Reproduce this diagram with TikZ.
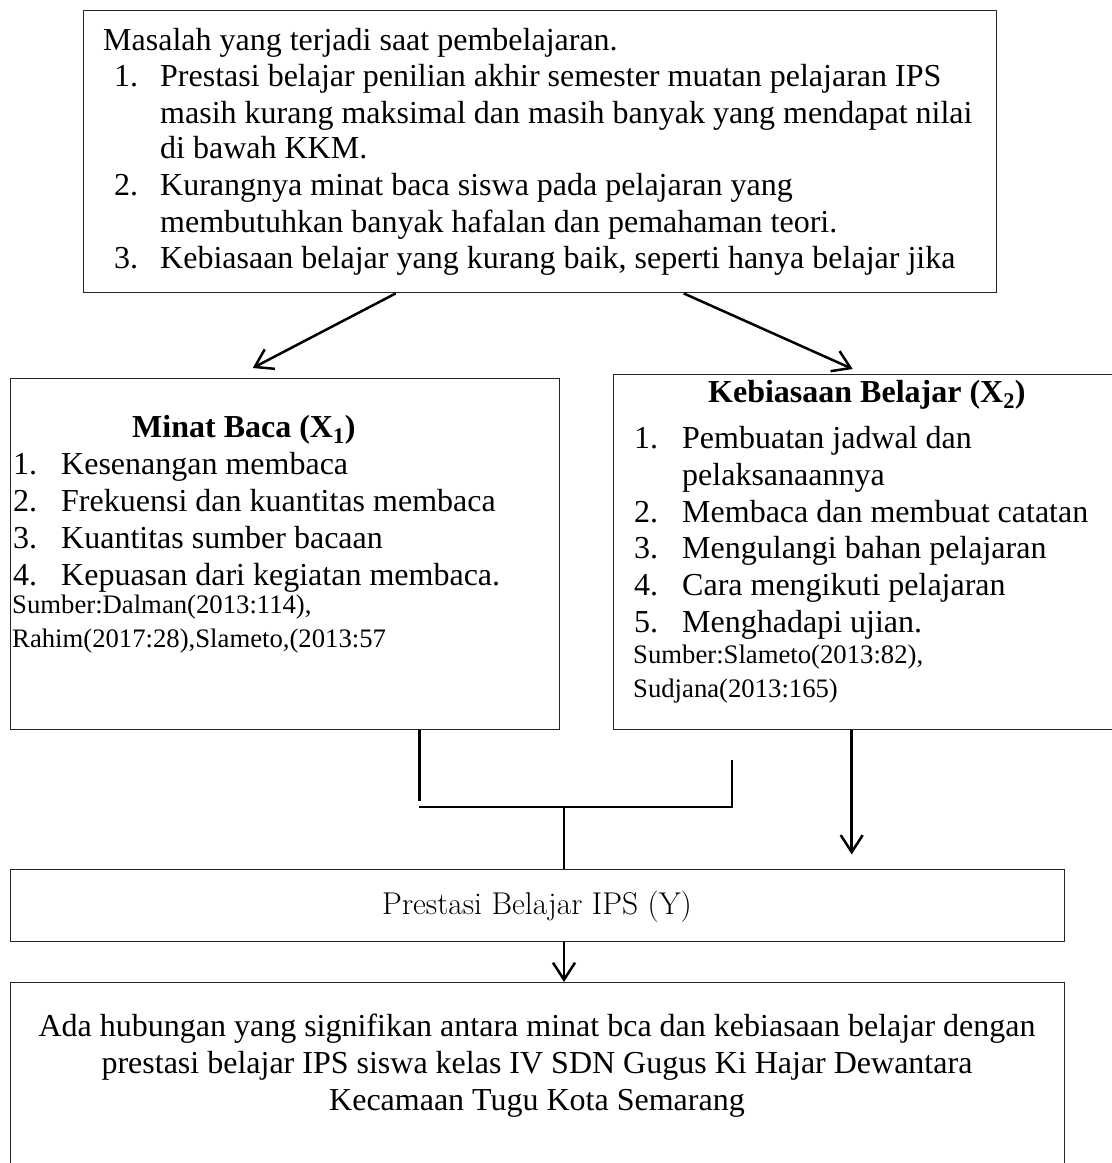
\documentclass[tikz,border=0pt]{standalone}
\usepackage{fontspec}
\newfontfamily\tnr{Liberation Serif}
\usetikzlibrary{arrows.meta,positioning,calc}
\tikzset{
  frame/.style={draw=black!85,line width=1.4pt,inner sep=0pt,anchor=north west},
  link/.style={line width=2.5pt},
  arrow/.style={line width=2.5pt,-{Straight Barb[length=17pt,width=22pt]}},
  txt/.style={anchor=base west,inner sep=0pt,font=\tnr\fontsize{32}{36}\selectfont},
  head/.style={anchor=base west,inner sep=0pt,font=\tnr\bfseries\fontsize{32}{36}\selectfont},
  src/.style={anchor=base west,inner sep=0pt,font=\tnr\fontsize{26.7}{32}\selectfont},
  mid/.style={anchor=base,inner sep=0pt,font=\tnr\fontsize{32}{36}\selectfont}
}

\begin{document}
\begin{tikzpicture}[x=1pt,y=-1pt]
  \useasboundingbox (0,0) rectangle (1112,1163);
  \clip (0,0) rectangle (1112,1163);

  % boxes
  \node[frame,minimum width=913pt,minimum height=282pt] (masalah) at (83,10) {};
  \node[frame,minimum width=549pt,minimum height=351pt] (minat) at (10,378) {};
  \node[frame,minimum width=520pt,minimum height=355pt] (kebiasaan) at (613,374) {};
  \node[frame,minimum width=1054pt,minimum height=72pt] (prestasi) at (10,869) {};
  \node[frame,minimum width=1054pt,minimum height=200pt] (hasil) at (10,982) {};

  % masalah
  \node[txt] (m0) at (103,50) {Masalah yang terjadi saat pembelajaran.};
  \node[txt] (n1) at (114,86) {1.};
  \node[txt] (n2) at (114,195) {2.};
  \node[txt] (n3) at (114,268) {3.};
  \node[txt] (m1) at (160,86) {Prestasi belajar penilian akhir semester muatan pelajaran IPS};
  \node[txt] (m2) at (160,123) {masih kurang maksimal dan masih banyak yang mendapat nilai};
  \node[txt] (m3) at (160,158) {di bawah KKM.};
  \node[txt] (m4) at (160,195) {Kurangnya minat baca siswa pada pelajaran yang};
  \node[txt] (m5) at (160,232) {membutuhkan banyak hafalan dan pemahaman teori.};
  \node[txt] (m6) at (160,268) {Kebiasaan belajar yang kurang baik, seperti hanya belajar jika};

  % minat baca
  \node[head] (x1) at (132,437) {Minat Baca (X\textsubscript{1})};
  \foreach \i/\y/\t in {1/474/Kesenangan membaca,
                        2/511/Frekuensi dan kuantitas membaca,
                        3/548/Kuantitas sumber bacaan,
                        4/585/Kepuasan dari kegiatan membaca.}{
    \node[txt] (a\i) at (13,\y) {\i.};
    \node[txt] (b\i) at (61,\y) {\t};
  }
  \node[src] (s1) at (12,613) {Sumber:Dalman(2013:114),};
  \node[src] (s2) at (12,647) {Rahim(2017:28),Slameto,(2013:57};

  % kebiasaan belajar
  \node[head] (x2) at (708,402) {Kebiasaan Belajar (X\textsubscript{2})};
  \foreach \i/\y/\t in {1/448/Pembuatan jadwal dan,
                        2/522/Membaca dan membuat catatan,
                        3/558/Mengulangi bahan pelajaran,
                        4/595/Cara mengikuti pelajaran,
                        5/632/Menghadapi ujian.}{
    \node[txt] (c\i) at (634,\y) {\i.};
    \node[txt] (d\i) at (682,\y) {\t};
  }
  \node[txt] (d0) at (682,485) {pelaksanaannya};
  \node[src] (s3) at (633,663) {Sumber:Slameto(2013:82),};
  \node[src] (s4) at (633,697) {Sudjana(2013:165)};

  % prestasi dan hasil
  \node[mid,font=\rmfamily\fontsize{31.5}{36}\selectfont] (y) at (537,914) {Prestasi Belajar IPS (Y)};
  \node[mid] (h1) at (537,1036) {Ada hubungan yang signifikan antara minat bca dan kebiasaan belajar dengan};
  \node[mid] (h2) at (537,1073) {prestasi belajar IPS siswa kelas IV SDN Gugus Ki Hajar Dewantara};
  \node[mid] (h3) at (537,1110) {Kecamaan Tugu Kota Semarang};

  % connectors
  \coordinate (jl) at (419,807);
  \coordinate (jr) at (732,807);
  \coordinate (jm) at (564,807);
  \draw[arrow] ([xshift=-144.5pt]masalah.south) -- ([xshift=-32.5pt,yshift=10pt]minat.north);
  \draw[arrow] ([xshift=143.5pt]masalah.south) -- ([xshift=-21pt,yshift=5pt]kebiasaan.north);
  \draw[link] ([xshift=134.5pt]minat.south) -- ++(0,71);
  \draw[link] (jl) -- (jr) -- ++(0,-47);
  \draw[link] (jm) -- (jm |- prestasi.north);
  \draw[arrow] ([xshift=-22pt]kebiasaan.south) -- ++(0,124);
  \draw[arrow] (prestasi.south -| jm) -- (hasil.north -| jm);
\end{tikzpicture}
\end{document}
